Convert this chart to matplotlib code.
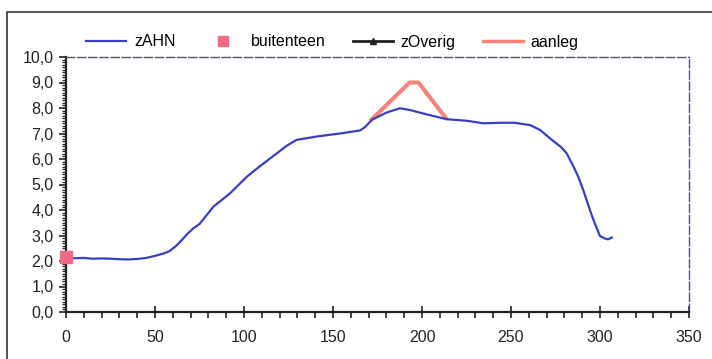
import matplotlib
matplotlib.use("Agg")
import matplotlib.pyplot as plt
from matplotlib.lines import Line2D
from matplotlib.patches import Rectangle
from matplotlib.ticker import MultipleLocator

plt.rcParams["font.family"] = ["Liberation Sans", "DejaVu Sans"]

# profile
afstand = [0, 5, 10, 15, 20, 25, 30, 35, 40, 45, 50, 55, 58, 62, 65, 68, 71.5, 75,
           82.8, 92.1, 101.5, 109, 116.5, 124, 129.6, 139, 142.7, 153.9, 165.2, 168,
           171.7, 180, 187.6, 193.3, 202.6, 213.9, 225.1, 234.4, 243.8, 252, 260.7,
           266.3, 271.9, 278.4, 281.3, 285, 287.8, 290.6, 294.4, 297.2, 300, 302.8,
           304.5, 306.6]
zAHN = [2.13, 2.11, 2.12, 2.09, 2.1, 2.09, 2.07, 2.06, 2.08, 2.12, 2.2, 2.3, 2.38, 2.6,
        2.82, 3.05, 3.28, 3.45, 4.13, 4.65, 5.3, 5.72, 6.12, 6.52, 6.75, 6.86, 6.9,
        7.0, 7.12, 7.25, 7.53, 7.82, 7.99, 7.92, 7.75, 7.56, 7.5, 7.4, 7.42, 7.42,
        7.33, 7.14, 6.81, 6.45, 6.22, 5.72, 5.3, 4.78, 3.98, 3.45, 2.98, 2.88, 2.85, 2.92]

buitenteen_x = [0]
buitenteen_z = [2.15]

aanleg_x = [171, 193, 198, 214]
aanleg_z = [7.5, 9.0, 9.0, 7.55]

blauw = "#3a3fbf"
roze = "#f06a86"
zalm = "#f4857c"

fig = plt.figure(figsize=(7.12, 3.59), dpi=100)
fig.add_artist(Rectangle((7 / 712, -0.1), 1.2, 1 - 12 / 359 + 0.1, transform=fig.transFigure,
                         fill=False, edgecolor="#333333", linewidth=1.2))

ax = fig.add_axes([66 / 712, 1 - 312 / 359, 623 / 712, 255 / 359])
ax.plot(afstand, zAHN, color=blauw, linewidth=1.6, zorder=3)
ax.plot(aanleg_x, aanleg_z, color=zalm, linewidth=3, solid_capstyle="butt", zorder=2)
ax.plot(buitenteen_x, buitenteen_z, linestyle="none", marker="s", markersize=8,
        color=roze, clip_on=False, zorder=4)

ax.set_xlim(0, 350)
ax.set_ylim(0, 10)
ax.xaxis.set_major_locator(MultipleLocator(50))
ax.xaxis.set_minor_locator(MultipleLocator(10))
ax.yaxis.set_major_locator(MultipleLocator(1))
ax.yaxis.set_minor_locator(MultipleLocator(0.1))
ax.yaxis.set_major_formatter(lambda v, p: f"{v:.1f}".replace(".", ","))
ax.tick_params(axis="x", which="major", direction="inout", length=8, width=1.2,
               labelsize=11.5, pad=9, colors="#222222")
ax.tick_params(axis="x", which="minor", direction="out", length=4, width=1.2, colors="#222222")
ax.tick_params(axis="y", which="major", direction="out", length=5, width=1.2,
               labelsize=11.5, pad=4, colors="#222222")
ax.tick_params(axis="y", which="minor", direction="out", length=3, width=0.9, colors="#222222")
for s in ("left", "bottom"):
    ax.spines[s].set_linewidth(1.6)
    ax.spines[s].set_color("#222222")
for s in ("top", "right"):
    ax.spines[s].set_linestyle((0, (6, 2)))
    ax.spines[s].set_color("#555566")
    ax.spines[s].set_linewidth(1.0)

handles = [
    Line2D([], [], color=blauw, linewidth=1.6),
    Line2D([], [], linestyle="none", marker="s", markersize=7, color=roze),
    Line2D([], [], color="#222222", linewidth=2, marker="^", markersize=5),
    Line2D([], [], color=zalm, linewidth=2.5),
]
fig.legend(handles, ["zAHN", "buitenteen", "zOverig", "aanleg"], loc="center",
           bbox_to_anchor=(0.467, 1 - 42 / 359), ncol=4, frameon=False, fontsize=11.5,
           handlelength=2.5, handletextpad=0.5, columnspacing=1.7)

fig.savefig("out.png", dpi=100)
